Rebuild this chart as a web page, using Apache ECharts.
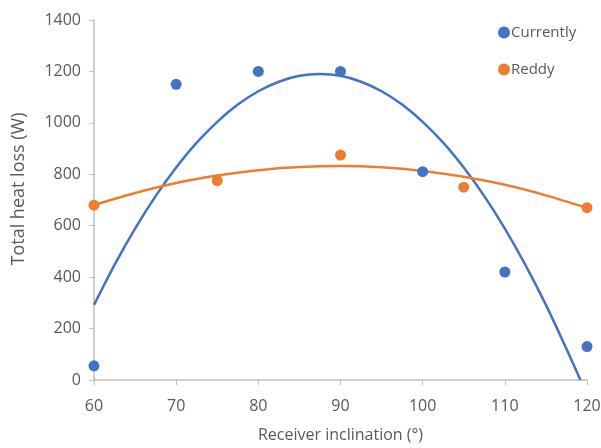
<!DOCTYPE html>
<html lang="en">
<head>
    <meta charset="UTF-8">
    <title>Total heat loss</title>
    <script src="https://cdn.jsdelivr.net/npm/echarts@6/dist/echarts.min.js"></script>
    <style>
        html, body { margin: 0; padding: 0; background: #fff; }
        #main { width: 601px; height: 448px; }
    </style>
</head>
<body>
<div id="main"></div>
<script>
    // measured points
    var currentlyX = [60, 70, 80, 90, 100, 110, 120];
    var currentlyY = [55, 1150, 1200, 1200, 810, 420, 130];
    var reddyX = [60, 75, 90, 105, 120];
    var reddyY = [680, 775, 875, 750, 670];

    // trendlines
    var curveCurX = [60, 62.5, 65, 67.5, 70, 72.5, 75, 77.5, 80, 82.5, 85, 87.5, 90, 92.5, 95, 97.5, 100, 102.5, 105, 107.5, 110, 112.5, 115, 117.5, 119.2];
    var curveCurY = [292, 448, 589, 715, 826, 923, 1004, 1071, 1123, 1160, 1183, 1190, 1183, 1160, 1123, 1071, 1004, 923, 826, 715, 589, 448, 292, 121, 0];
    var curveRedX = [60, 65, 70, 75, 80, 85, 90, 95, 100, 105, 110, 115, 120];
    var curveRedY = [680, 727, 766, 795, 816, 828, 832, 827, 813, 790, 759, 718, 669];

    var yTicks = [0, 200, 400, 600, 800, 1000, 1200, 1400];

    function pairs(xs, ys) {
        var out = [];
        for (var i = 0; i < xs.length; i++) out.push([xs[i], ys[i]]);
        return out;
    }

    var blue = '#4472c4';
    var orange = '#ed7d31';
    var txt = '#595959';
    var axisCol = '#bfbfbf';
    var font = 'Open Sans';

    var myChart = echarts.init(document.getElementById('main'));
    var option = {
        animation: false,
        textStyle: { fontFamily: font },
        grid: { left: 94, right: 14, top: 20, bottom: 68, outerBoundsMode: 'none', containLabel: false },
        legend: {
            data: ['Currently', 'Reddy'],
            orient: 'vertical',
            left: 493,
            top: 20,
            itemGap: 22,
            itemWidth: 12,
            itemHeight: 12,
            icon: 'circle',
            textStyle: { color: txt, fontSize: 15, fontFamily: font, padding: [0, 0, 0, -4] }
        },
        xAxis: {
            type: 'value',
            min: 60, max: 120, interval: 10,
            name: 'Receiver inclination (°)',
            nameLocation: 'middle',
            nameGap: 47,
            nameTextStyle: { color: txt, fontSize: 16 },
            axisLine: { lineStyle: { color: axisCol, width: 1.5 } },
            axisTick: { show: true, length: 5, lineStyle: { color: axisCol } },
            axisLabel: { color: txt, fontSize: 16, margin: 18 },
            splitLine: { show: false }
        },
        yAxis: {
            type: 'value',
            min: 0, max: 1400, interval: 200,
            name: 'Total heat loss (W)',
            nameLocation: 'middle',
            nameGap: 66,
            nameTextStyle: { color: txt, fontSize: 18, padding: [0, 0, 0, 22] },
            axisLine: { show: true, lineStyle: { color: axisCol, width: 1.5 } },
            axisTick: { show: true, length: 5, lineStyle: { color: axisCol } },
            axisLabel: {
                color: txt, fontSize: 16, margin: 13,
                formatter: function (v) { return yTicks.indexOf(v) >= 0 ? String(v) : ''; }
            },
            splitLine: { show: false }
        },
        series: [
            {
                name: 'Currently trend', type: 'line', smooth: 0.3, showSymbol: false,
                data: pairs(curveCurX, curveCurY),
                lineStyle: { color: blue, width: 2.5 }, z: 2
            },
            {
                name: 'Reddy trend', type: 'line', smooth: 0.3, showSymbol: false,
                data: pairs(curveRedX, curveRedY),
                lineStyle: { color: orange, width: 2.5 }, z: 2
            },
            {
                name: 'Currently', type: 'scatter', symbolSize: 11,
                data: pairs(currentlyX, currentlyY),
                itemStyle: { color: blue, opacity: 1 }, z: 3
            },
            {
                name: 'Reddy', type: 'scatter', symbolSize: 11,
                data: pairs(reddyX, reddyY),
                itemStyle: { color: orange, opacity: 1 }, z: 3
            }
        ]
    };
    myChart.setOption(option);
</script>
</body>
</html>
